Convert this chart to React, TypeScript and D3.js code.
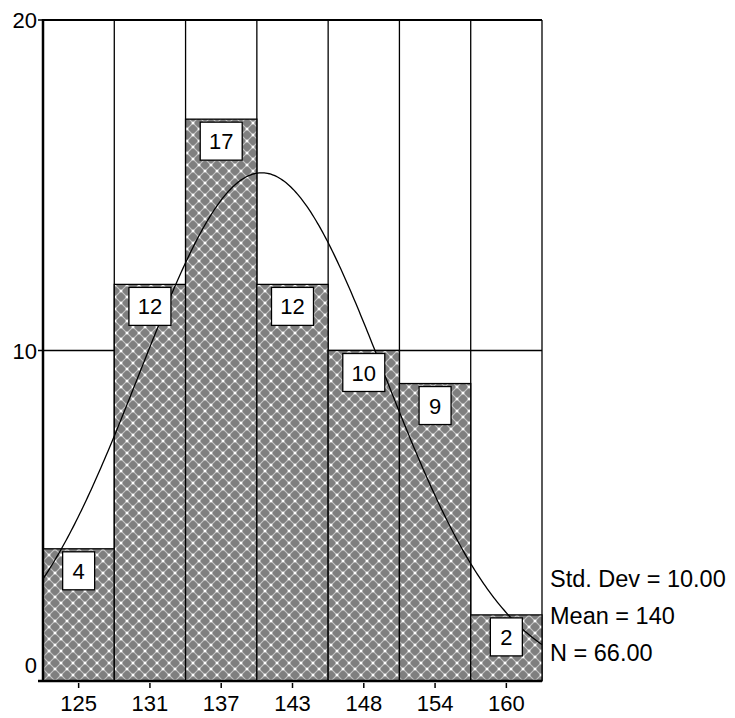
import React from "react";
import * as d3 from "d3";

// ---- data ----
const categories = ["125", "131", "137", "143", "148", "154", "160"];
const counts = [4, 12, 17, 12, 10, 9, 2];
const binStart = 122.08;
const binWidth = 5.84;
const yTicks = [0, 10, 20];
const statMean = 140;
const statSd = 10;
const statN = 66;
const statLabels = ["Std. Dev = 10.00", "Mean = 140", "N = 66.00"];

const W = 735;
const H = 718;
const left = 43;
const right = 542;
const top = 20;
const bottom = 681;
const FONT = "'Liberation Sans', Arial, Helvetica, sans-serif";

export default function App() {
  const x = d3
    .scaleLinear()
    .domain([binStart, binStart + categories.length * binWidth])
    .range([left, right]);
  const y = d3.scaleLinear().domain([0, 20]).range([bottom, top]);

  const edges = d3.range(categories.length + 1).map((i) => binStart + i * binWidth);
  const centers = categories.map((_, i) => binStart + (i + 0.5) * binWidth);

  const peak = (statN * binWidth) / (statSd * Math.sqrt(2 * Math.PI));
  const dens = (v: number) =>
    peak * Math.exp(-((v - statMean) ** 2) / (2 * statSd * statSd));
  const [d0, d1] = x.domain();
  const curvePts = d3.range(0, 301).map((i) => {
    const v = d0 + ((d1 - d0) * i) / 300;
    return [x(v), y(dens(v))] as [number, number];
  });
  const line = d3.line().curve(d3.curveLinear)(curvePts) || "";

  return (
    <svg
      width={W}
      height={H}
      style={{ position: "absolute", left: 0, top: 0, background: "#fff" }}
      fontFamily={FONT}
    >
      <defs>
        <pattern id="hatch" patternUnits="userSpaceOnUse" width={12} height={12} x={left} y={bottom}>
          <rect width={12} height={12} fill="#7f7f7f" />
          <path
            d="M0,0 L12,12 M12,0 L0,12 M-6,6 L6,-6 M6,18 L18,6 M-6,6 L6,18 M6,-6 L18,6"
            stroke="#c4c4c4"
            strokeWidth={1.2}
          />
          <rect x={4.7} y={4.7} width={2.6} height={2.6} fill="#fff" />
          <rect x={-1.3} y={-1.3} width={2.6} height={2.6} fill="#fff" />
          <rect x={10.7} y={-1.3} width={2.6} height={2.6} fill="#fff" />
          <rect x={-1.3} y={10.7} width={2.6} height={2.6} fill="#fff" />
          <rect x={10.7} y={10.7} width={2.6} height={2.6} fill="#fff" />
        </pattern>
      </defs>

      {/* grid lines (behind bars) */}
      {yTicks.slice(1).map((t) => (
        <line key={"g" + t} x1={left} x2={right} y1={y(t)} y2={y(t)} stroke="#000" strokeWidth={t === 20 ? 2 : 1.3} />
      ))}
      {edges.slice(1).map((e, i) => (
        <line key={"v" + i} x1={x(e)} x2={x(e)} y1={top} y2={bottom} stroke="#000" strokeWidth={1.3} />
      ))}

      {/* bars */}
      {counts.map((c, i) => (
        <rect
          key={"b" + i}
          x={x(edges[i])}
          y={y(c)}
          width={x(edges[i + 1]) - x(edges[i])}
          height={bottom - y(c)}
          fill="url(#hatch)"
          stroke="#000"
          strokeWidth={1.3}
        />
      ))}

      {/* curve */}
      <path d={line} fill="none" stroke="#000" strokeWidth={1.3} />

      {/* value boxes */}
      {counts.map((c, i) => {
        const label = String(c);
        const bw = 22 + 10 * label.length;
        const bh = 38;
        const cx = x(centers[i]);
        const by = y(c) + 3;
        return (
          <g key={"l" + i}>
            <rect x={cx - bw / 2} y={by} width={bw} height={bh} fill="#fff" stroke="#000" strokeWidth={1.3} />
            <text x={cx} y={by + bh / 2 + 8} textAnchor="middle" fontSize={22} fill="#000">
              {label}
            </text>
          </g>
        );
      })}

      {/* axes */}
      <line x1={left} x2={left} y1={top - 1} y2={bottom + 1} stroke="#000" strokeWidth={2.5} />
      <line x1={left - 5} x2={right} y1={bottom} y2={bottom} stroke="#000" strokeWidth={2.5} />
      {yTicks.map((t) => (
        <line key={"yt" + t} x1={left - 5} x2={left} y1={y(t)} y2={y(t)} stroke="#000" strokeWidth={1.5} />
      ))}
      {yTicks.map((t) => (
        <text
          key={"yl" + t}
          x={37}
          y={(t === 0 ? y(t) - 16 : y(t)) + 8}
          textAnchor="end"
          fontSize={22}
          fill="#000"
        >
          {t}
        </text>
      ))}
      {centers.map((c, i) => (
        <g key={"xt" + i}>
          <line x1={x(c)} x2={x(c)} y1={bottom + 2} y2={bottom + 7} stroke="#000" strokeWidth={1.5} />
          <text x={x(c)} y={711} textAnchor="middle" fontSize={22} fill="#000">
            {categories[i]}
          </text>
        </g>
      ))}

      {/* stats */}
      {statLabels.map((s, i) => (
        <text key={"s" + i} x={550} y={587 + i * 37} fontSize={23.5} fill="#000">
          {s}
        </text>
      ))}
    </svg>
  );
}
